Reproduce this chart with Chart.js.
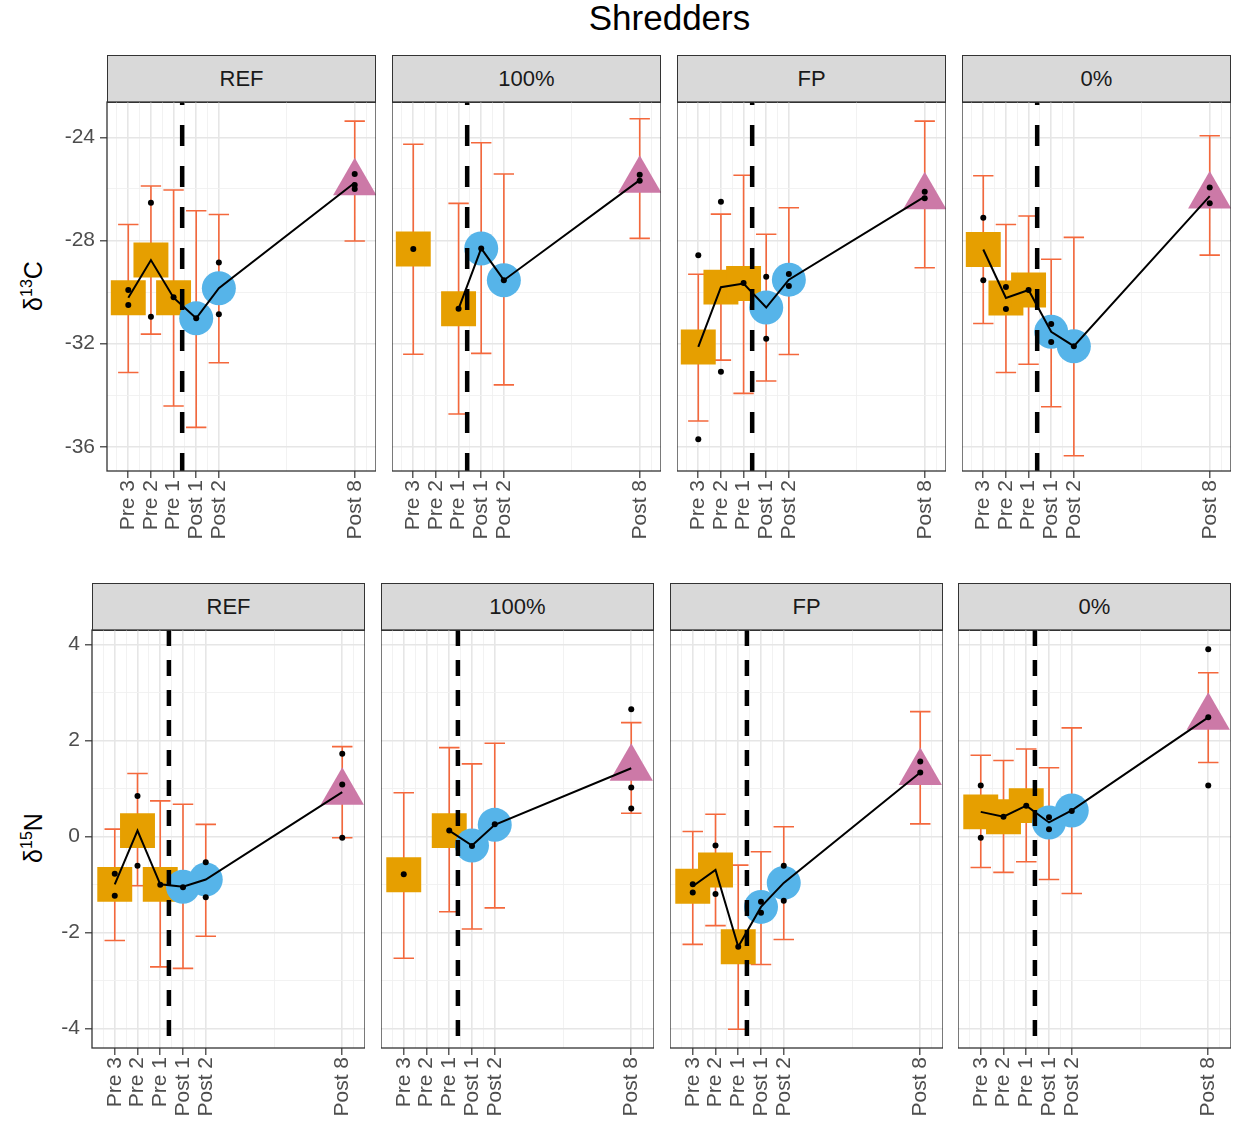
<!DOCTYPE html>
<html>
<head>
<meta charset="utf-8">
<script src="https://cdn.jsdelivr.net/npm/chart.js@4.4.1/dist/chart.umd.min.js"></script>
<style>
  body { margin: 0; background: #fff; font-family: "Liberation Sans", Arial, sans-serif; }
  #page { position: relative; width: 1236px; height: 1131px; overflow: hidden; background: #fff; }
  canvas { position: absolute; }
  .title { position: absolute; left: 107px; width: 1125px; top: -2px; text-align: center; font-size: 35px; color: #000; }
  .strip { position: absolute; box-sizing: border-box; background: #d9d9d9; border: 1px solid #333;
           text-align: center; font-size: 22px; color: #1a1a1a; line-height: 45px; }
  .ytitle { position: absolute; width: 200px; height: 30px; line-height: 30px; text-align: center;
            font-size: 25px; color: #000; transform: rotate(-90deg); white-space: nowrap; }
  .ytitle span { font-size: 16px; position: relative; top: -10px; }
</style>
</head>
<body>
<div id="page">
  <div class="title">Shredders</div>
  <div class="ytitle" style="left:-67px; top:271px;">δ<span>13</span>C</div>
  <div class="ytitle" style="left:-67px; top:823px;">δ<span>15</span>N</div>
</div>
<script>
// facets and time points
const sites = ["REF", "100%", "FP", "0%"];
const times = ["Pre 3", "Pre 2", "Pre 1", "Post 1", "Post 2", "Post 8"];
const timeX = [1, 2, 3, 4, 5, 11];
const cutX = 3.38; // dashed line between Pre 1 and Post 1

const c13Ticks = [-36, -32, -28, -24];
const n15Ticks = [-4, -2, 0, 2, 4];

// d13C, one row per site, one value per time point
const c13Mean = [
  [-30.22, -28.76, -30.22, -31.02, -29.85, -25.76],
  [-28.33, null, -30.65, -28.31, -29.54, -25.66],
  [-32.13, -29.81, -29.67, -30.6, -29.52, -26.3],
  [-28.35, -30.23, -29.92, -31.54, -32.1, -26.28],
];
const c13Lo = [
  [-33.12, -31.63, -34.42, -35.25, -32.74, -28.02],
  [-32.41, null, -34.73, -32.38, -33.6, -27.92],
  [-35.0, -32.64, -33.93, -33.45, -32.42, -29.06],
  [-31.22, -33.12, -32.8, -34.45, -36.35, -28.57],
];
const c13Hi = [
  [-27.38, -25.89, -26.04, -26.85, -26.99, -23.37],
  [-24.27, null, -26.56, -24.21, -25.42, -23.28],
  [-29.31, -26.98, -25.47, -27.76, -26.73, -23.37],
  [-25.49, -27.38, -27.05, -28.73, -27.88, -23.94],
];
// raw samples: [time index, value]
const c13Raw = [
  [[0, -29.92], [0, -30.5], [1, -26.54], [1, -30.96], [2, -30.2], [3, -31.02],
   [4, -28.85], [4, -30.86], [5, -25.42], [5, -25.85], [5, -26.0]],
  [[0, -28.33], [2, -30.65], [3, -28.31], [4, -29.54], [5, -25.45], [5, -25.68]],
  [[0, -28.57], [0, -35.71], [1, -26.5], [1, -33.09], [2, -29.65], [3, -29.41],
   [3, -31.81], [4, -29.3], [4, -29.77], [5, -26.11], [5, -26.36]],
  [[0, -27.12], [0, -29.54], [1, -29.8], [1, -30.66], [2, -29.92], [3, -31.24],
   [3, -31.94], [4, -32.1], [5, -25.95], [5, -26.56]],
];

// d15N
const n15Mean = [
  [-1.0, 0.12, -1.0, -1.05, -0.9, 0.92],
  [-0.8, null, 0.12, -0.19, 0.24, 1.42],
  [-1.04, -0.7, -2.3, -1.47, -0.97, 1.33],
  [0.51, 0.41, 0.64, 0.29, 0.54, 2.48],
];
const n15Lo = [
  [-2.17, -1.03, -2.72, -2.75, -2.08, -0.03],
  [-2.54, null, -1.57, -1.93, -1.49, 0.48],
  [-2.25, -1.86, -4.02, -2.67, -2.15, 0.26],
  [-0.65, -0.75, -0.53, -0.9, -1.19, 1.54],
];
const n15Hi = [
  [0.15, 1.31, 0.74, 0.67, 0.25, 1.87],
  [0.91, null, 1.85, 1.51, 1.94, 2.37],
  [0.1, 0.46, -0.6, -0.32, 0.2, 2.6],
  [1.69, 1.58, 1.82, 1.43, 2.26, 3.41],
];
const n15Raw = [
  [[0, -0.78], [0, -1.24], [1, 0.84], [1, -0.61], [2, -1.01], [3, -1.06],
   [4, -0.54], [4, -1.27], [5, 1.72], [5, 1.08], [5, -0.03]],
  [[0, -0.79], [2, 0.12], [3, -0.2], [4, 0.25], [5, 2.65], [5, 1.02], [5, 0.58]],
  [[0, -1.0], [0, -1.17], [1, -0.19], [1, -1.2], [2, -2.3], [3, -1.36],
   [3, -1.59], [4, -0.61], [4, -1.34], [5, 1.56], [5, 1.33]],
  [[0, 1.06], [0, -0.03], [1, 0.41], [2, 0.64], [3, 0.4], [3, 0.15],
   [4, 0.53], [5, 3.9], [5, 2.48], [5, 1.06]],
];

const colPre = "#E69F00";
const colPost = "#56B4E9";
const colLate = "#CC79A7";
const colBar = "#f4683c";
const CAP = 0.45;
const Y_AXIS_W = 60;
const PAD_TOP = 10;

Chart.defaults.font.family = "'Liberation Sans', Arial, sans-serif";
Chart.defaults.font.size = 21;
Chart.defaults.color = "#4d4d4d";

const rows = [
  { mean: c13Mean, lo: c13Lo, hi: c13Hi, raw: c13Raw, ticks: c13Ticks,
    yMin: -36.94, yMax: -22.63, xMin: 0.06, xMax: 11.94,
    top: 102, h: 369, lefts: [107, 392, 677, 962], w: 269, axisH: 90,
    stripTop: 55, dash: [21, 20], dashOff: 3, dashUp: true },
  { mean: n15Mean, lo: n15Lo, hi: n15Hi, raw: n15Raw, ticks: n15Ticks,
    yMin: -4.41, yMax: 4.3, xMin: 0, xMax: 12,
    top: 630, h: 418, lefts: [92, 381, 670, 958], w: 273, axisH: 83,
    stripTop: 583, dash: [16, 14], dashOff: 0, dashUp: false },
];

// majors plus ggplot-style minor breaks (midpoints)
function withMinor(major, lo, hi) {
  const d = major[1] - major[0];
  const ext = [major[0] - d].concat(major, [major[major.length - 1] + d]);
  const mids = [];
  for (let i = 0; i < ext.length - 1; i++) mids.push((ext[i] + ext[i + 1]) / 2);
  return major.concat(mids).filter(v => v >= lo && v <= hi).sort((a, b) => a - b);
}

const panelBorder = {
  id: "panelBorder",
  afterDraw(chart) {
    const a = chart.chartArea, ctx = chart.ctx;
    ctx.save();
    ctx.strokeStyle = "#333";
    ctx.lineWidth = 1.3;
    ctx.strokeRect(a.left, a.top, a.right - a.left, a.bottom - a.top);
    ctx.restore();
  }
};

function shapeOf(i) { return i < 3 ? "rect" : (i < 5 ? "circle" : "triangle"); }
function colorOf(i) { return i < 3 ? colPre : (i < 5 ? colPost : colLate); }
function radiusOf(i) { return i < 3 ? 24.7 : (i < 5 ? 17 : 25); }

function makePanel(r, s) {
  const row = rows[r];
  const first = s === 0;
  const page = document.getElementById("page");

  const strip = document.createElement("div");
  strip.className = "strip";
  strip.style.left = row.lefts[s] + "px";
  strip.style.top = row.stripTop + "px";
  strip.style.width = row.w + "px";
  strip.style.height = (row.top - row.stripTop + 1) + "px";
  strip.textContent = sites[s];
  page.appendChild(strip);

  const cv = document.createElement("canvas");
  const cw = row.w + (first ? Y_AXIS_W : 0);
  const ch = PAD_TOP + row.h + row.axisH;
  cv.width = cw; cv.height = ch;
  cv.style.width = cw + "px"; cv.style.height = ch + "px";
  cv.style.left = (row.lefts[s] - (first ? Y_AXIS_W : 0)) + "px";
  cv.style.top = (row.top - PAD_TOP) + "px";
  page.appendChild(cv);

  const mean = row.mean[s], lo = row.lo[s], hi = row.hi[s];

  const bars = [];
  lo.forEach((l, i) => {
    if (l === null) return;
    const x = timeX[i];
    bars.push({ x: x, y: l }, { x: x, y: hi[i] }, { x: x, y: null },
              { x: x - CAP, y: hi[i] }, { x: x + CAP, y: hi[i] }, { x: x, y: null },
              { x: x - CAP, y: l }, { x: x + CAP, y: l }, { x: x, y: null });
  });

  const shapes = [];
  mean.forEach((m, i) => { if (m !== null) shapes.push({ x: timeX[i], y: m, i: i }); });

  const line = mean.map((m, i) => ({ x: timeX[i], y: m }));
  const dots = row.raw[s].map(p => ({ x: timeX[p[0]], y: p[1] }));
  const cut = row.dashUp
    ? [{ x: cutX, y: row.yMin }, { x: cutX, y: row.yMax }]
    : [{ x: cutX, y: row.yMax }, { x: cutX, y: row.yMin }];

  const xMajor = timeX;
  const yMajor = row.ticks;
  const xVals = withMinor(xMajor, row.xMin, row.xMax);
  const yVals = withMinor(yMajor, row.yMin, row.yMax);

  new Chart(cv, {
    type: "scatter",
    data: {
      datasets: [
        { type: "scatter", data: dots, order: 0, pointRadius: 3, pointBackgroundColor: "#000",
          pointBorderWidth: 0 },
        { type: "line", data: line, order: 1, borderColor: "#000", borderWidth: 2,
          pointRadius: 0, spanGaps: false, tension: 0 },
        { type: "line", data: cut, order: 2, borderColor: "#000", borderWidth: 4.5,
          borderDash: row.dash, borderDashOffset: row.dashOff, borderCapStyle: "butt", pointRadius: 0 },
        { type: "scatter", data: shapes, order: 3, pointBorderWidth: 0,
          pointStyle: c => shapeOf(c.raw.i),
          pointRadius: c => radiusOf(c.raw.i),
          pointBackgroundColor: c => colorOf(c.raw.i) },
        { type: "line", data: bars, order: 4, borderColor: colBar, borderWidth: 1.6,
          pointRadius: 0, spanGaps: false, borderCapStyle: "butt" },
      ]
    },
    options: {
      responsive: false,
      animation: false,
      events: [],
      layout: { autoPadding: false, padding: { top: PAD_TOP, left: 0, right: 0, bottom: 0 } },
      plugins: { legend: { display: false }, tooltip: { enabled: false } },
      scales: {
        x: {
          type: "linear", min: row.xMin, max: row.xMax,
          afterBuildTicks: sc => { sc.ticks = xVals.map(v => ({ value: v })); },
          afterFit: sc => { sc.height = row.axisH; sc.paddingLeft = 0; sc.paddingRight = 0; },
          border: { display: false },
          grid: {
            color: c => xMajor.includes(c.tick.value) ? "#e6e6e6" : "#f1f1f1",
            lineWidth: c => xMajor.includes(c.tick.value) ? 1.6 : 0.9,
            tickColor: c => xMajor.includes(c.tick.value) ? "#333" : "rgba(0,0,0,0)",
            tickLength: 7, tickWidth: 1.2
          },
          ticks: {
            autoSkip: false, minRotation: 90, maxRotation: 90, padding: 2,
            callback: v => { const k = timeX.indexOf(v); return k < 0 ? "" : times[k]; }
          }
        },
        y: {
          type: "linear", min: row.yMin, max: row.yMax,
          afterBuildTicks: sc => { sc.ticks = yVals.map(v => ({ value: v })); },
          afterFit: sc => { sc.width = first ? Y_AXIS_W : 0; sc.paddingTop = 0; sc.paddingBottom = 0; },
          border: { display: false },
          grid: {
            color: c => yMajor.includes(c.tick.value) ? "#e6e6e6" : "#f1f1f1",
            lineWidth: c => yMajor.includes(c.tick.value) ? 1.6 : 0.9,
            tickColor: c => yMajor.includes(c.tick.value) ? "#333" : "rgba(0,0,0,0)",
            drawTicks: first, tickLength: 7, tickWidth: 1.2
          },
          ticks: {
            display: first, padding: 5,
            callback: v => yMajor.includes(v) ? String(v) : ""
          }
        }
      }
    },
    plugins: [panelBorder]
  });
}

for (let r = 0; r < rows.length; r++) {
  for (let s = 0; s < sites.length; s++) makePanel(r, s);
}
</script>
</body>
</html>
